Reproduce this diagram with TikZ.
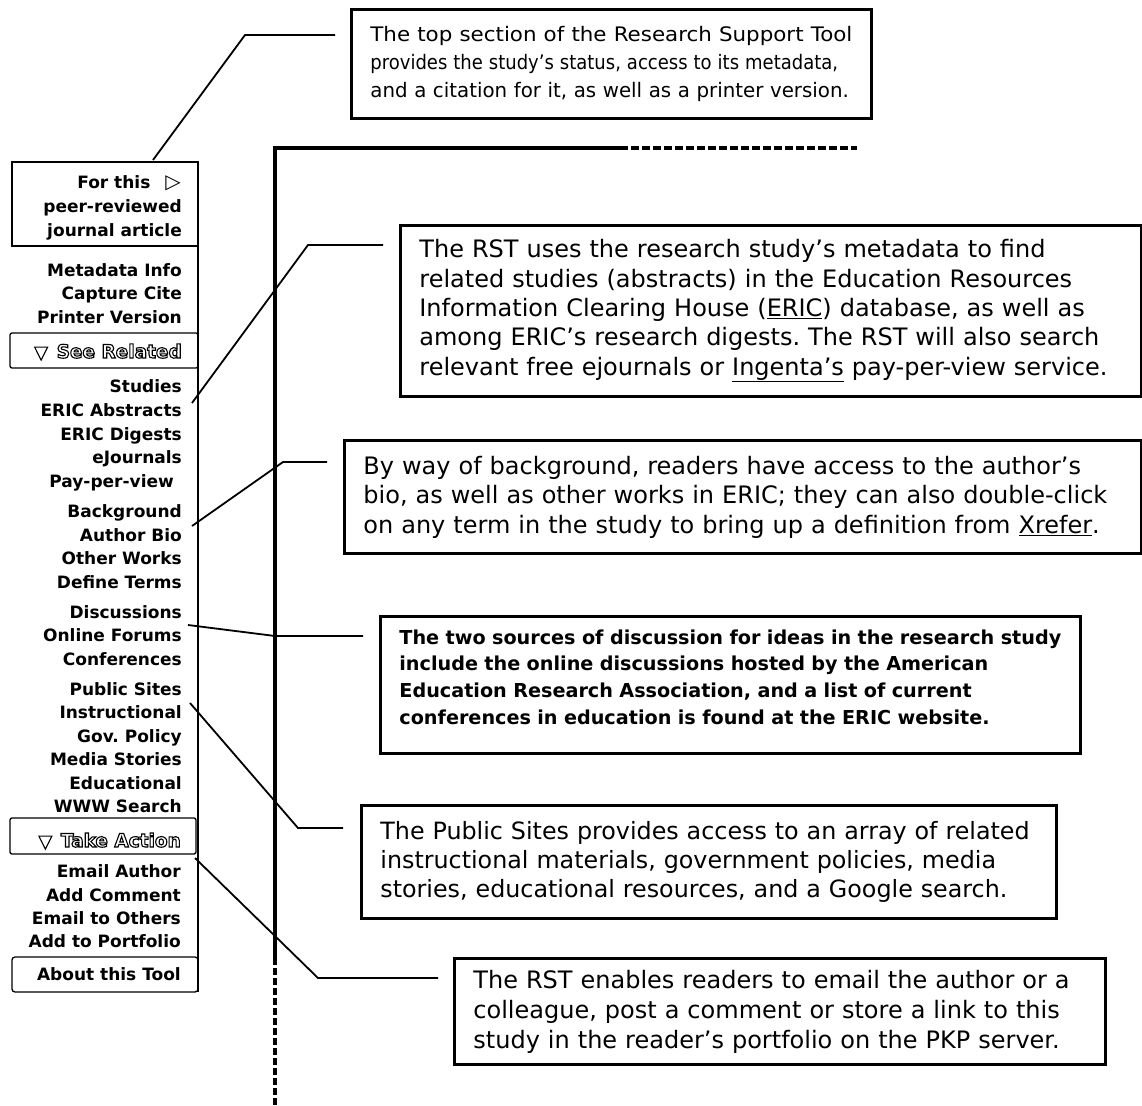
\documentclass[tikz,border=0pt]{standalone}
\usepackage{fontspec}
\usepackage{graphicx}
\setmainfont{DejaVu Sans}
\usetikzlibrary{calc}
\frenchspacing

% outlined (hollow) lettering for the menu headers
\newcommand{\hollowtext}[1]{\special{pdf:literal direct 1 Tr 1.1 w}#1\special{pdf:literal direct 0 Tr}}
% one unbreakable line of callout text
\newcommand{\oneline}[1]{\mbox{#1}}

\tikzset{
  frame/.style={line width=3.5pt},
  callout/.style={draw, line width=2.8pt, anchor=north west, align=left,
                  inner xsep=19pt, inner ysep=0pt},
  leader/.style={line width=1.8pt, line join=miter},
  panel/.style={line width=1.3pt},
  item/.style={anchor=base east, inner sep=0pt,
               font=\bfseries\fontsize{17}{18}\selectfont},
  header/.style={anchor=base east, inner sep=0pt,
                 font=\bfseries\fontsize{18.5}{19}\selectfont},
}

\begin{document}
\frenchspacing
\begin{tikzpicture}[x=1pt, y=-1pt]
\useasboundingbox (0,0) rectangle (1142,1105);

% ---------- page frame of the article view ----------
\draw[frame] (275,958) -- (275,148) -- (620,148);
\draw[frame, dash pattern=on 8pt off 3pt] (620,148) -- (857,148);
\draw[frame, dash pattern=on 6.5pt off 3.5pt] (275,958) -- (275,1105);

% ---------- left tool panel ----------
\draw[panel] (12,162) rectangle (198,246);
\draw[panel] (198,246) -- (198,992);
\draw[panel, rounded corners=2pt] (10,333) rectangle (198,368);
\draw[panel, rounded corners=2pt] (10,818) rectangle (196,854);
\draw[panel, rounded corners=3pt] (12,957) rectangle (198,992);

\node[item] (forthis)   at (181,188) {For this\hspace{15pt}{\mdseries\fontsize{20}{20}\selectfont ▷}};
\node[item] (peer)      at (182,212) {peer-reviewed};
\node[item] (journal)   at (182,236) {journal article};
\node[item] (metadata)  at (182,276) {Metadata Info};
\node[item] (capture)   at (182,299) {Capture Cite};
\node[item] (printer)   at (182,323) {Printer Version};
\node[header] (seerel)  at (182,358) {\hollowtext{{\fontsize{17}{17}\selectfont ▼}\hspace{9pt}See Related}};
\node[item] (studies)   at (182,392) {Studies};
\node[item] (abstracts) at (182,416) {ERIC Abstracts};
\node[item] (digests)   at (182,440) {ERIC Digests};
\node[item] (ejournals) at (182,463) {eJournals};
\node[item] (payview)   at (174,487) {Pay-per-view};
\node[item] (backgr)    at (182,517) {Background};
\node[item] (authbio)   at (182,541) {Author Bio};
\node[item] (works)     at (182,564) {Other Works};
\node[item] (define)    at (182,588) {Define Terms};
\node[item] (discuss)   at (182,618) {Discussions};
\node[item] (forums)    at (182,641) {Online Forums};
\node[item] (confs)     at (182,665) {Conferences};
\node[item] (public)    at (182,695) {Public Sites};
\node[item] (instr)     at (182,718) {Instructional};
\node[item] (policy)    at (182,742) {Gov. Policy};
\node[item] (media)     at (182,765) {Media Stories};
\node[item] (educ)      at (182,789) {Educational};
\node[item] (www)       at (182,812) {WWW Search};
\node[header] (takeact) at (181,847) {\hollowtext{{\fontsize{17}{17}\selectfont ▼}\hspace{9pt}Take Action}};
\node[item] (emailauth) at (181,877) {Email Author};
\node[item] (addcomm)   at (181,901) {Add Comment};
\node[item] (emailoth)  at (181,924) {Email to Others};
\node[item] (portf)     at (181,947) {Add to Portfolio};
\node[item] (about)     at (181,980) {About this Tool};

% ---------- explanatory callouts ----------
\node[callout, minimum width=520pt, minimum height=109pt, text width=482pt,
      font=\fontsize{20}{28}\selectfont] (topsec) at (350,8)
  {\scalebox{1.07}[1]{The top section of the Research Support Tool}\\
   \scalebox{0.9}[1]{provides the study’s status, access to its metadata,}\\
   \scalebox{0.99}[1]{and a citation for it, as well as a printer version.}};

\node[callout, minimum width=741pt, minimum height=171pt, text width=703pt,
      font=\fontsize{24}{29.3}\selectfont] (related) at (399,224)
  {\oneline{The RST uses the research study’s metadata to find}\\
   \oneline{related studies (abstracts) in the Education Resources}\\
   \oneline{Information Clearing House (\underline{ERIC}) database, as well as}\\
   \oneline{among ERIC’s research digests. The RST will also search}\\
   \oneline{relevant free ejournals or \underline{Ingenta’s} pay-per-view service.}};

\node[callout, minimum width=797pt, minimum height=113pt, text width=759pt,
      font=\fontsize{24}{29.5}\selectfont] (backbox) at (343,439)
  {\oneline{By way of background, readers have access to the author’s}\\
   \oneline{bio, as well as other works in ERIC; they can also double-click}\\
   \oneline{on any term in the study to bring up a definition from \underline{Xrefer}.}};

\node[callout, minimum width=700pt, minimum height=137pt, text width=662pt,
      font=\bfseries\fontsize{19.2}{26.7}\selectfont] (discbox) at (379,615)
  {\oneline{The two sources of discussion for ideas in the research study}\\
   \oneline{include the online discussions hosted by the American}\\
   \oneline{Education Research Association, and a list of current}\\
   \oneline{conferences in education is found at the ERIC website.\rule[-16pt]{0pt}{0pt}}};

\node[callout, minimum width=695pt, minimum height=113pt, text width=657pt,
      font=\fontsize{23.8}{29}\selectfont] (pubbox) at (360,804)
  {\oneline{The Public Sites provides access to an array of related}\\
   \oneline{instructional materials, government policies, media}\\
   \oneline{stories, educational resources, and a Google search.}};

\node[callout, minimum width=651pt, minimum height=106pt, text width=613pt,
      font=\fontsize{24}{30}\selectfont] (actbox) at (453,957)
  {\oneline{The RST enables readers to email the author or a}\\
   \oneline{colleague, post a comment or store a link to this}\\
   \oneline{study in the reader’s portfolio on the PKP server.}};

% ---------- leader lines from the panel to the callouts ----------
\coordinate (s1) at (153,160);  \coordinate (k1) at (245,35);  \coordinate (e1) at ($(topsec.north west)+(-15,27)$);
\coordinate (s2) at (192,403);  \coordinate (k2) at (308,245); \coordinate (e2) at ($(related.north west)+(-16,21)$);
\coordinate (s3) at (192,526);  \coordinate (k3) at (283,462); \coordinate (e3) at ($(backbox.north west)+(-16,23)$);
\coordinate (s4) at (188,625);  \coordinate (k4) at (275,636); \coordinate (e4) at ($(discbox.north west)+(-16,21)$);
\coordinate (s5) at (190,703);  \coordinate (k5) at (298,828); \coordinate (e5) at ($(pubbox.north west)+(-17,24)$);
\coordinate (s6) at (195,858);  \coordinate (k6) at (318,978); \coordinate (e6) at ($(actbox.north west)+(-15,21)$);

\draw[leader] (s1) -- (k1) -- (e1);
\draw[leader] (s2) -- (k2) -- (e2);
\draw[leader] (s3) -- (k3) -- (e3);
\draw[leader] (s4) -- (k4) -- (e4);
\draw[leader] (s5) -- (k5) -- (e5);
\draw[leader] (s6) -- (k6) -- (e6);
\end{tikzpicture}
\end{document}
